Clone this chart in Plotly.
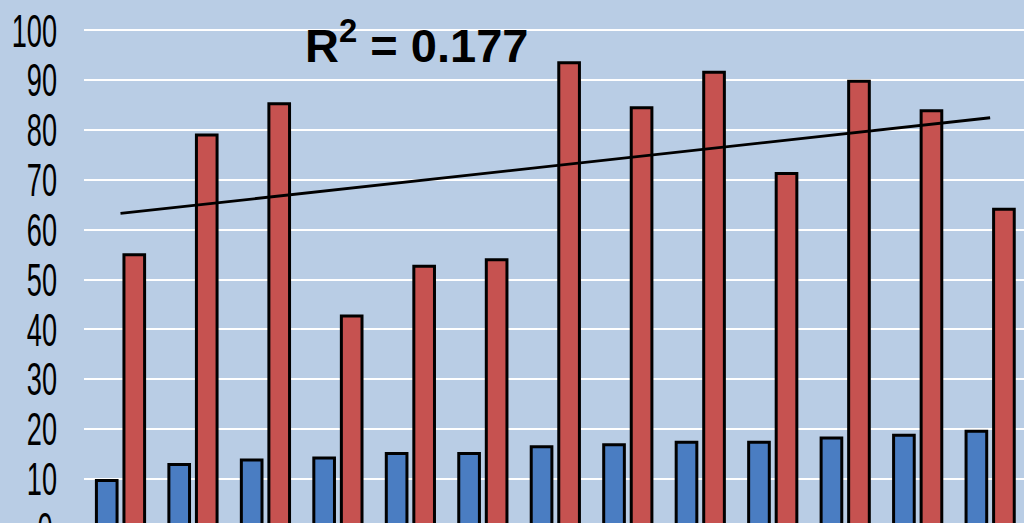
import numpy as np
import plotly.graph_objects as go

# ---- data ----
groups = list(range(1, 14))
blue_values = [9.7, 12.9, 13.8, 14.2, 15.1, 15.1, 16.5, 16.9, 17.4, 17.4, 18.25, 18.8, 19.6]
red_values = [55.0, 79.0, 85.3, 42.7, 52.7, 54.0, 93.5, 84.5, 91.6, 71.3, 89.8, 83.9, 64.1]
y_tick_values = [10, 20, 30, 40, 50, 60, 70, 80, 90, 100]
y_tick_labels = ["10", "20", "30", "40", "50", "60", "70", "80", "90", "100"]
r2_label = "<b>R<sup>2</sup> = 0.177</b>"

# ---- linear trend of the red series ----
slope, intercept = np.polyfit(groups, red_values, 1)
trend_x = [groups[0], groups[-1]]
trend_y = [slope * x + intercept for x in trend_x]

BG = "#B9CDE5"
fig = go.Figure()
fig.add_trace(go.Bar(x=groups, y=blue_values,
                     marker=dict(color="#4A7DC2", line=dict(color="black", width=3)), showlegend=False))
fig.add_trace(go.Bar(x=groups, y=red_values,
                     marker=dict(color="#C65250", line=dict(color="black", width=3)), showlegend=False))
fig.add_trace(go.Scatter(x=trend_x, y=trend_y, mode="lines",
                         line=dict(color="black", width=2.8), showlegend=False))

tick_font = dict(family="Liberation Sans, Arial, sans-serif", size=46, color="black")

fig.update_layout(
    template="none",
    width=1024, height=523,
    margin=dict(l=84, r=0, t=0, b=0),
    paper_bgcolor=BG, plot_bgcolor=BG,
    barmode="group", bargap=0.24, bargroupgap=0.25,
    xaxis=dict(range=[0.4963, 13.467], showgrid=False, showticklabels=False, zeroline=False,
               showline=False, ticks="", automargin=False),
    yaxis=dict(range=[1.18, 106.1], tickvals=y_tick_values, ticktext=y_tick_labels,
               showgrid=True, gridcolor="white", gridwidth=2, zeroline=False, showline=False,
               ticks="", tickfont=tick_font, automargin=False, ticklabelstandoff=26),
    annotations=[
        dict(text=r2_label, xref="paper", yref="paper", x=0.354, y=0.92, xanchor="center", yanchor="middle",
             showarrow=False, font=dict(family="Liberation Sans, Arial, sans-serif", size=47, color="black")),
        dict(text="0", xref="paper", yref="paper", x=-29 / 940, y=-6 / 523, xanchor="right", yanchor="middle",
             showarrow=False, font=tick_font),
    ],
)

post = """
document.body.style.margin = '0';
document.body.style.overflow = 'hidden';
var gd = document.getElementById('{plot_id}');
function squeeze(el, s){
  var b = el.getBBox(); var r = b.x + b.width;
  var t = el.getAttribute('transform') || '';
  el.setAttribute('transform', t + ' translate(' + r + ',0) scale(' + s + ',1) translate(' + (-r) + ',0)');
}
gd.querySelectorAll('.ytick text').forEach(function(el){ squeeze(el, 0.59); });
gd.querySelectorAll('.annotation-text').forEach(function(el){ if(el.textContent.trim()==='0'){ squeeze(el, 0.59); } });
"""

fig.write_html("out.html", post_script=post, config={"displayModeBar": False})
